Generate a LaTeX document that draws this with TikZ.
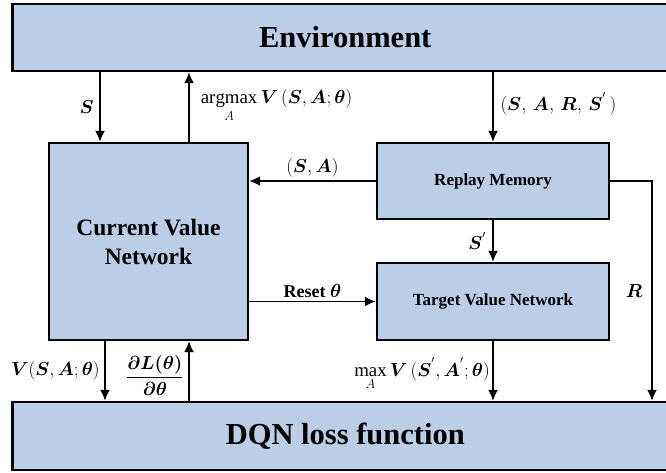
\documentclass[tikz,border=0pt]{standalone}
\usepackage{amsmath}
\usepackage{bm}
\usepackage{fontspec}
\setmainfont{Liberation Serif}
\usetikzlibrary{arrows.meta,calc}
\definecolor{boxblue}{RGB}{186,206,232}
\DeclareMathOperator*{\myargmax}{argmax}
\begin{document}
\begin{tikzpicture}[x=1pt,y=-1pt,
  box/.style={draw=black, line width=2.4pt, fill=boxblue, inner sep=0pt, font=\bfseries},
  arr/.style={line width=1.8pt, -{Latex[length=11pt,width=10pt]}},
  lbl/.style={font=\fontsize{17.28}{21}\selectfont, inner sep=2pt, scale=1.09}]
\useasboundingbox (0,0) rectangle (666,473);

% boxes
\node[box, minimum width=665.5pt, minimum height=67pt, font=\bfseries\fontsize{30.5}{36}\selectfont] (env) at (345.25,37.5) {Environment};
\node[box, minimum width=665.5pt, minimum height=68pt, font=\bfseries\fontsize{30.5}{36}\selectfont] (dqn) at (345.25,436) {DQN loss function};
\node[box, minimum width=199pt, minimum height=197pt, align=center, font=\bfseries\fontsize{23.5}{29}\selectfont] (cvn) at (148.5,241.5) {Current Value\\Network};
\node[box, minimum width=232pt, minimum height=76pt, font=\bfseries\fontsize{17}{20}\selectfont] (rm) at (493,181) {Replay Memory};
\node[box, minimum width=232pt, minimum height=77pt, font=\bfseries\fontsize{17}{20}\selectfont] (tvn) at (493,301.5) {Target Value Network};

% x positions of vertical connectors
\coordinate (xS) at (100,0);
\coordinate (xAM) at (189,0);
\coordinate (xV) at (105,0);
\coordinate (xDL) at (189,0);
\coordinate (xR) at (652,0);

% connectors
\draw[arr] (env.south -| xS) -- node[lbl, left=3pt] (lS) {$\bm{S}$} (cvn.north -| xS);
\draw[arr] (cvn.north -| xAM) -- node[lbl, right=8pt, yshift=1pt] (lAM) {$\displaystyle\myargmax_{A}\bm{V}\,(\bm{S},\bm{A};\bm{\theta})$} (env.south -| xAM);
\draw[arr] (env.south -| rm.north) -- node[lbl, right=4pt, yshift=3pt] (lSARS) {$(\bm{S},\,\bm{A},\,\bm{R},\,\bm{S}^{'}\,)$} (rm.north);
\draw[arr] (rm.west) -- node[lbl, above=1pt] (lSA) {$(\bm{S},\bm{A})$} (rm.west -| cvn.east);
\draw[arr] (cvn.east |- tvn.west) -- node[lbl, above=1pt, font=\bfseries\fontsize{16.5}{20}\selectfont, scale=1] (lReset) {Reset $\bm{\theta}$} (tvn.west);
\draw[arr] (rm.south) -- node[lbl, left=3pt] (lSp) {$\bm{S}^{'}$} (tvn.north);
\draw[arr] (rm.east) -- (rm.east -| xR) -- node[lbl, left=6pt] (lR) {$\bm{R}$} (dqn.north -| xR);
\draw[arr] (cvn.south -| xV) -- node[lbl, left=2pt] (lV) {$\bm{V}(\bm{S},\bm{A};\bm{\theta})$} (dqn.north -| xV);
\draw[arr] (dqn.north -| xDL) -- node[lbl, left=2pt, yshift=-4pt] (lDL) {$\displaystyle\frac{\bm{\partial L(\theta)}}{\bm{\partial\theta}}$} (cvn.south -| xDL);
\draw[arr] (tvn.south) -- node[lbl, left=0pt, yshift=-3pt] (lMax) {$\displaystyle\max_{A}\bm{V}\,(\bm{S}^{'},\bm{A}^{'};\bm{\theta})$} (dqn.north -| tvn.south);
\end{tikzpicture}
\end{document}
